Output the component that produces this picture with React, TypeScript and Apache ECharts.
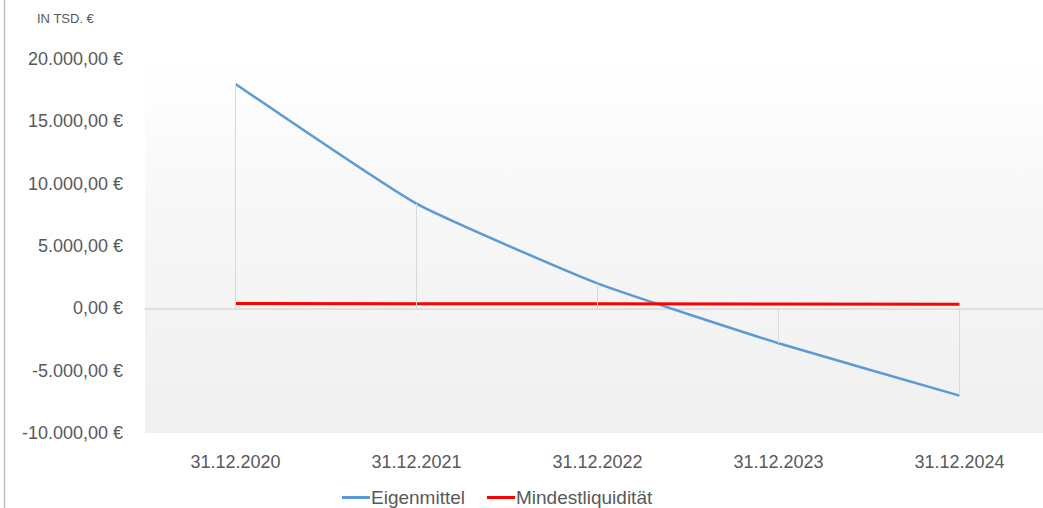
import React, { useEffect, useRef } from "react";
import * as echarts from "echarts";

const categories = ["31.12.2020", "31.12.2021", "31.12.2022", "31.12.2023", "31.12.2024"];
const eigenmittel = [18000, 8400, 2000, -2800, -7000];
const mindestliquiditaet = [380, 370, 360, 340, 320];
const yMin = -10000;
const yMax = 20000;
const yInterval = 5000;

const fmt = (v: number) => {
  const neg = v < 0;
  const abs = Math.abs(v);
  const int = Math.floor(abs).toString().replace(/\B(?=(\d{3})+(?!\d))/g, ".");
  return (neg ? "-" : "") + int + ",00 €";
};

export default function App() {
  const ref = useRef<HTMLDivElement>(null);
  useEffect(() => {
    if (!ref.current) return;
    const chart = echarts.init(ref.current, undefined, { renderer: "svg" });
    const font = "'Liberation Sans', Arial, sans-serif";
    chart.setOption({
      animation: false,
      backgroundColor: "#ffffff",
      textStyle: { fontFamily: font },
      graphic: [
        { type: "line", shape: { x1: 4.5, y1: 0, x2: 4.5, y2: 508 }, style: { stroke: "#bfbfbf", lineWidth: 1.5 } },
        { type: "text", left: 37, top: 12, style: { text: "IN TSD. €", fill: "#595959", font: "13px " + font } },
      ],
      legend: {
        left: 337,
        top: 483,
        itemWidth: 28,
        itemHeight: 3,
        itemGap: 22,
        icon: "rect",
        textStyle: { color: "#595959", fontSize: 19, fontFamily: font, padding: [0, 0, 0, -4] },
        data: ["Eigenmittel", "Mindestliquidität"],
      },
      grid: {
        left: 145,
        top: 59,
        width: 905,
        height: 374,
        show: true,
        borderWidth: 0,
        backgroundColor: new echarts.graphic.LinearGradient(0, 0, 0, 1, [
          { offset: 0, color: "#ffffff" },
          { offset: 0.4, color: "#f7f7f7" },
          { offset: 1, color: "#f0f0f0" },
        ]),
      },
      xAxis: {
        type: "category",
        data: categories,
        boundaryGap: true,
        axisLine: { show: true, onZero: true, lineStyle: { color: "#d9d9d9", width: 1.5 } },
        axisTick: { show: false },
        axisLabel: {
          color: "#595959",
          fontSize: 18,
          fontFamily: font,
          margin: 20,
          interval: 0,
        },
        position: "bottom",
      },
      yAxis: {
        type: "value",
        min: yMin,
        max: yMax,
        interval: yInterval,
        splitLine: { show: false },
        axisLine: { show: false },
        axisTick: { show: false },
        axisLabel: { color: "#595959", fontSize: 18, fontFamily: font, margin: 22, formatter: fmt },
      },
      series: [
        {
          name: "Eigenmittel",
          type: "line",
          data: eigenmittel,
          smooth: 0.15,
          symbol: "none",
          lineStyle: { color: "#5b9bd5", width: 2.5 },
          itemStyle: { color: "#5b9bd5" },
          z: 3,
          markLine: {
            silent: true,
            symbol: "none",
            label: { show: false },
            lineStyle: { color: "#d9d9d9", width: 1, type: "solid" },
            data: eigenmittel.map((v, i) => [
              { coord: [i, v] },
              { coord: [i, 0] },
            ]),
          },
        },
        {
          name: "Mindestliquidität",
          type: "line",
          data: mindestliquiditaet,
          symbol: "none",
          lineStyle: { color: "#ff0000", width: 3 },
          itemStyle: { color: "#ff0000" },
          z: 4,
        },
      ],
    });
    return () => chart.dispose();
  }, []);
  return <div ref={ref} style={{ position: "fixed", left: 0, top: 0, width: 1052, height: 508 }} />;
}
